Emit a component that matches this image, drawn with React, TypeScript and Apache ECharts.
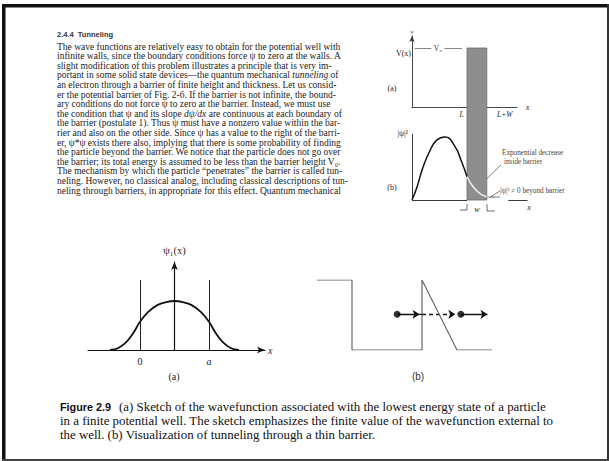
import React, { useEffect, useRef } from 'react';
import * as echarts from 'echarts';

const SERIF = '"Liberation Serif", "DejaVu Serif", serif';
const SANS = '"Liberation Sans", "DejaVu Sans", sans-serif';

// ---------- text content ----------
const headingText = '2.4.4  Tunneling';
const paragraphLines = [
  'The wave functions are relatively easy to obtain for the potential well with',
  'infinite walls, since the boundary conditions force ψ to zero at the walls. A',
  'slight modification of this problem illustrates a principle that is very im-',
  'portant in some solid state devices—the quantum mechanical {i|tunneling} of',
  'an electron through a barrier of finite height and thickness. Let us consid-',
  'er the potential barrier of Fig. 2-6. If the barrier is not infinite, the bound-',
  'ary conditions do not force ψ to zero at the barrier. Instead, we must use',
  'the condition that ψ and its slope {i|dψ/dx} are continuous at each boundary of',
  'the barrier (postulate 1). Thus ψ must have a nonzero value within the bar-',
  'rier and also on the other side. Since ψ has a value to the right of the barri-',
  'er, ψ*ψ exists there also, implying that there is some probability of finding',
  'the particle beyond the barrier. We notice that the particle does not go over',
  'the barrier; its total energy is assumed to be less than the barrier height V₀.',
  'The mechanism by which the particle “penetrates” the barrier is called tun-',
  'neling. However, no classical analog, including classical descriptions of tun-',
  'neling through barriers, in appropriate for this effect. Quantum mechanical',
];
const captionTitle = 'Figure 2.9';
const captionLines = [
  '(a) Sketch of the wavefunction associated with the lowest energy state of a particle',
  'in a finite potential well. The sketch emphasizes the finite value of the wavefunction external to',
  'the well. (b) Visualization of tunneling through a thin barrier.',
];

// ---------- Fig (a): ground state in a finite well (walls at ±0.5) ----------
const wellX = [-0.935, -0.82, -0.7, -0.6, -0.5, -0.385, -0.25, -0.12, 0, 0.12, 0.25, 0.385, 0.5, 0.6, 0.7, 0.82, 0.935];
const wellPsi = [0, 0.02, 0.09, 0.19, 0.32, 0.43, 0.51, 0.545, 0.557, 0.545, 0.51, 0.43, 0.32, 0.19, 0.09, 0.02, 0];
const wallPositions = [-0.5, 0.5];
const wallLabels = ['0', 'a'];
const wallHeight = 0.795;

// ---------- Fig (b): tunneling through a thin barrier ----------
const potX = [0, 1, 1, 3, 3, 4, 5];
const potV = [1, 1, 0, 0, 1, 0, 0];
const particleLevel = 0.51;
const particleX = [2.29, 4.11];
const incidentArrow = [2.29, 2.93];
const incidentTail = [2.93, 3.0];
const tunnelArrow = [3.0, 3.95];
const transmittedArrow = [4.11, 4.87];

// ---------- Inset: barrier V(x) and |psi|^2 ----------
const barrierStart = 1; // L
const barrierWidth = 0.36; // W
const V0 = 1;
const V0LinePoints = [0.05, 0.91];
const V0LabelAt = 0.47;
const densX = [0, 0.085, 0.2, 0.33, 0.45, 0.6, 0.78, 0.9, 1.0];
const densY = [0, 0.19, 0.52, 0.79, 0.95, 1.0, 0.85, 0.61, 0.37];
const insideX = [1.0, 1.11, 1.24, 1.36];
const insideY = [0.37, 0.21, 0.1, 0.05];
const beyondX = [1.36, 1.51];
const beyondY = [0.05, 0.04];
const densAxisTop = 1.05;
const insetXTickValues = [barrierStart, barrierStart + barrierWidth];
const insetXTickLabels = ['{l|L}', '{r|L+W}'];

const pairs = (xs: number[], ys: number[]) => xs.map((x, i) => [x, ys[i]]);

function txt(text: string, x: number, y: number, font: string, extra: any = {}) {
  return {
    type: 'text',
    x,
    y,
    silent: true,
    style: { text, font, fill: '#1c1c1c', verticalAlign: 'middle', align: 'left', ...extra },
  };
}

const PARA_SIZE = 9.5;
const CAP_SIZE = 12.9;

function buildOption(): any {
  const graphics: any[] = [];
  // page frame
  graphics.push({ type: 'rect', silent: true, shape: { x: 2, y: 4, width: 607, height: 3.5 }, style: { fill: '#111' } });
  graphics.push({ type: 'rect', silent: true, shape: { x: 2, y: 4, width: 3.5, height: 457 }, style: { fill: '#111' } });
  graphics.push({ type: 'rect', silent: true, shape: { x: 607, y: 4, width: 2, height: 457 }, style: { fill: '#333' } });
  graphics.push({ type: 'rect', silent: true, shape: { x: 2, y: 459, width: 607, height: 2 }, style: { fill: '#444' } });

  graphics.push(txt(headingText, 57, 34, `bold 7.5px ${SANS}`, { fill: '#333' }));
  paragraphLines.forEach((line, i) => {
    graphics.push(
      txt(line, 57, 46.5 + i * 9.6, `${PARA_SIZE}px ${SERIF}`, {
        fill: '#222',
        rich: { i: { fontStyle: 'italic', fontFamily: SERIF, fontSize: PARA_SIZE, fill: '#222' } },
      })
    );
  });

  // inset labels
  graphics.push(txt('V(x)', 411, 53, `8px ${SERIF}`, { align: 'right' }));
  graphics.push(txt('(a)', 392, 88, `8px ${SERIF}`, { align: 'center' }));
  graphics.push(txt('(b)', 392, 187, `8px ${SERIF}`, { align: 'center' }));
  graphics.push(txt('|ψ|²', 408, 133, `8px ${SERIF}`, { align: 'right' }));
  graphics.push(txt('Exponential decrease', 502, 153, `7.2px ${SERIF}`, { fill: '#444' }));
  graphics.push(txt('inside barrier', 504, 161.5, `7.2px ${SERIF}`, { fill: '#444' }));
  graphics.push(txt('|ψ|² ≠ 0 beyond barrier', 500, 191, `7.2px ${SERIF}`, { fill: '#444' }));
  graphics.push(txt('W', 477, 210, `italic 7px ${SERIF}`, { align: 'center' }));
  graphics.push(txt('x', 529, 207, `italic 8px ${SERIF}`, { align: 'center' }));
  graphics.push({ type: 'line', silent: true, shape: { x1: 501, y1: 165, x2: 476, y2: 189 }, style: { stroke: '#666', lineWidth: 0.8 } });
  graphics.push({ type: 'polyline', silent: true, shape: { points: [[500, 191], [490, 197], [500, 197]] }, style: { stroke: '#555', lineWidth: 0.8, fill: null } });
  graphics.push({ type: 'polyline', silent: true, shape: { points: [[460, 210], [467, 210], [467, 204]] }, style: { stroke: '#444', lineWidth: 0.8, fill: null } });
  graphics.push({ type: 'polyline', silent: true, shape: { points: [[487, 204], [487, 211], [495, 211]] }, style: { stroke: '#444', lineWidth: 0.8, fill: null } });

  // figure labels
  graphics.push(txt('(a)', 174, 376, `10px ${SERIF}`, { align: 'center' }));
  graphics.push(txt('(b)', 418, 376, `10px ${SANS}`, { align: 'center', fill: '#333' }));

  // caption
  graphics.push(txt(captionTitle, 60, 407, `bold 10.8px ${SANS}`, { fill: '#111' }));
  graphics.push(txt(captionLines[0], 119, 407, `${CAP_SIZE}px ${SERIF}`, { fill: '#111' }));
  graphics.push(txt(captionLines[1], 60, 421, `${CAP_SIZE}px ${SERIF}`, { fill: '#111' }));
  graphics.push(txt(captionLines[2], 60, 435, `${CAP_SIZE}px ${SERIF}`, { fill: '#111' }));

  const noSplit = { splitLine: { show: false } };

  return {
    animation: false,
    backgroundColor: '#ffffff',
    grid: [
      { left: 88, top: 262, width: 177, height: 88 },
      { left: 317, top: 280, width: 175, height: 70 },
      { left: 412, top: 36, width: 105, height: 71 },
      { left: 412, top: 48, width: 165, height: 152 },
    ],
    xAxis: [
      {
        type: 'value', gridIndex: 0, min: -1.254, max: 1.312, ...noSplit,
        axisLine: { show: true, onZero: true, symbol: ['none', 'arrow'], symbolSize: [5, 8], lineStyle: { color: '#111', width: 1 } },
        axisTick: { show: false },
        axisLabel: {
          customValues: wallPositions,
          margin: 6,
          formatter: (v: number) => {
            const i = wallPositions.findIndex((p) => Math.abs(p - v) < 1e-6);
            return i === 1 ? `{i|${wallLabels[i]}}` : `{n|${wallLabels[Math.max(i, 0)]}}`;
          },
          rich: {
            n: { fontFamily: SERIF, fontSize: 10, color: '#222' },
            i: { fontFamily: SERIF, fontSize: 10, fontStyle: 'italic', color: '#222' },
          },
        },
        name: 'x', nameLocation: 'end', nameGap: 3,
        nameTextStyle: { fontFamily: SERIF, fontStyle: 'italic', fontSize: 10, color: '#222' },
      },
      { type: 'value', gridIndex: 1, min: 0, max: 5, show: false, ...noSplit },
      {
        type: 'value', gridIndex: 2, min: 0, max: 1.909, ...noSplit,
        axisLine: { show: true, onZero: true, lineStyle: { color: '#333', width: 0.9 } },
        axisTick: { show: false },
        axisLabel: {
          customValues: insetXTickValues,
          margin: 3,
          formatter: (v: number) => {
            const i = insetXTickValues.findIndex((p) => Math.abs(p - v) < 1e-6);
            return insetXTickLabels[Math.max(i, 0)];
          },
          rich: {
            l: { fontFamily: SERIF, fontSize: 7.5, fontStyle: 'italic', color: '#222', padding: [0, 11, 0, 0] },
            r: { fontFamily: SERIF, fontSize: 7.5, fontStyle: 'italic', color: '#222', padding: [0, 0, 0, 36] },
          },
        },
        name: 'x', nameLocation: 'end', nameGap: 9,
        nameTextStyle: { fontFamily: SERIF, fontStyle: 'italic', fontSize: 7.5, color: '#222', padding: [8, 0, 0, 0] },
      },
      { type: 'value', gridIndex: 3, min: 0, max: 3, show: false, ...noSplit },
    ],
    yAxis: [
      {
        type: 'value', gridIndex: 0, min: 0, max: 1, ...noSplit,
        axisLine: { show: true, onZero: true, symbol: ['none', 'arrow'], symbolSize: [5, 8], lineStyle: { color: '#111', width: 1.2 } },
        axisTick: { show: false }, axisLabel: { show: false },
        name: 'ψ₁(x)', nameLocation: 'end', nameGap: 6,
        nameTextStyle: { fontFamily: SERIF, fontSize: 10.5, color: '#222', align: 'center' },
      },
      { type: 'value', gridIndex: 1, min: 0, max: 1, show: false, ...noSplit },
      {
        type: 'value', gridIndex: 2, min: 0, max: 1.2034, ...noSplit,
        axisLine: { show: true, onZero: true, symbol: ['none', 'arrow'], symbolSize: [4, 6], lineStyle: { color: '#333', width: 0.9 } },
        axisTick: { show: false }, axisLabel: { show: false },
        name: 'ψ', nameLocation: 'end', nameGap: 2,
        nameTextStyle: { fontFamily: SERIF, fontSize: 5, color: '#444', align: 'center' },
      },
      { type: 'value', gridIndex: 3, min: 0, max: 2.413, show: false, ...noSplit },
    ],
    series: [
      {
        type: 'line', xAxisIndex: 0, yAxisIndex: 0, data: pairs(wellX, wellPsi),
        smooth: 0.4, symbol: 'none', lineStyle: { color: '#111', width: 1.8 },
        markLine: {
          silent: true, symbol: ['none', 'none'], label: { show: false },
          lineStyle: { color: '#222', width: 1, type: 'solid' },
          data: wallPositions.map((x) => [{ coord: [x, 0] }, { coord: [x, wallHeight] }]),
        },
      },
      {
        type: 'line', xAxisIndex: 1, yAxisIndex: 1, data: pairs(potX, potV),
        symbol: 'none', lineStyle: { color: '#666', width: 1.2 },
      },
      {
        type: 'lines', coordinateSystem: 'cartesian2d', xAxisIndex: 1, yAxisIndex: 1,
        symbol: ['none', 'arrow'], symbolSize: 7, lineStyle: { color: '#111', width: 1.3, opacity: 1 },
        data: [
          { coords: [[incidentArrow[0], particleLevel], [incidentArrow[1], particleLevel]] },
          { coords: [[transmittedArrow[0], particleLevel], [transmittedArrow[1], particleLevel]] },
        ],
      },
      {
        type: 'line', xAxisIndex: 1, yAxisIndex: 1, symbol: 'none',
        data: [[incidentTail[0], particleLevel], [incidentTail[1], particleLevel]],
        lineStyle: { color: '#111', width: 1.3 },
      },
      {
        type: 'lines', coordinateSystem: 'cartesian2d', xAxisIndex: 1, yAxisIndex: 1,
        symbol: ['none', 'arrow'], symbolSize: 7, lineStyle: { color: '#111', width: 1.3, type: [4, 3], opacity: 1 },
        data: [{ coords: [[tunnelArrow[0], particleLevel], [tunnelArrow[1], particleLevel]] }],
      },
      {
        type: 'scatter', xAxisIndex: 1, yAxisIndex: 1, data: particleX.map((x) => [x, particleLevel]),
        symbolSize: 7, itemStyle: { color: '#000' },
      },
      {
        type: 'line', xAxisIndex: 3, yAxisIndex: 3, data: pairs(densX, densY),
        smooth: 0.5, symbol: 'none', lineStyle: { color: '#111', width: 1.5 },
        markArea: {
          silent: true,
          itemStyle: { color: '#8e8e8e', borderColor: '#6a6a6a', borderWidth: 0.8 },
          data: [[{ coord: [barrierStart, 0] }, { coord: [barrierStart + barrierWidth, 2.413] }]],
        },
        markLine: {
          silent: true, symbol: ['none', 'none'], label: { show: false },
          lineStyle: { color: '#222', width: 0.9, type: 'solid' },
          data: [
            [{ coord: [0, 0] }, { coord: [0, densAxisTop] }],
            [{ coord: [0, 0] }, { coord: [barrierStart, 0] }],
            [{ coord: [1.75, 0] }, { coord: [2.1, 0] }],
          ],
        },
      },
      {
        type: 'line', xAxisIndex: 3, yAxisIndex: 3, data: pairs(insideX, insideY), z: 10,
        smooth: 0.4, symbol: 'none', lineStyle: { color: '#f2f2f2', width: 1.4 },
      },
      {
        type: 'line', xAxisIndex: 3, yAxisIndex: 3, data: pairs(beyondX, beyondY), z: 10,
        symbol: 'none', lineStyle: { color: '#999', width: 1.2 },
      },
      {
        type: 'line', xAxisIndex: 2, yAxisIndex: 2, data: [],
        markLine: {
          silent: true, symbol: ['none', 'none'], label: { show: false },
          lineStyle: { color: '#666', width: 0.8, type: 'solid' },
          data: [[{ coord: [V0LinePoints[0], V0] }, { coord: [V0LinePoints[1], V0] }]],
        },
        markPoint: {
          silent: true,
          symbol: 'rect', symbolSize: [13, 8],
          itemStyle: { color: '#ffffff' },
          label: { show: true, position: 'inside', formatter: 'V₀', fontFamily: SERIF, fontSize: 7.5, color: '#333' },
          data: [{ coord: [V0LabelAt, V0] }],
        },
      },
    ],
    graphic: graphics,
  };
}

export default function App() {
  const ref = useRef<HTMLDivElement>(null);
  useEffect(() => {
    const chart = echarts.init(ref.current!, undefined, { renderer: 'svg' });
    chart.setOption(buildOption());
    return () => chart.dispose();
  }, []);
  return (
    <div
      ref={ref}
      style={{ position: 'absolute', left: 0, top: 0, width: 609, height: 461, background: '#fff' }}
    />
  );
}
